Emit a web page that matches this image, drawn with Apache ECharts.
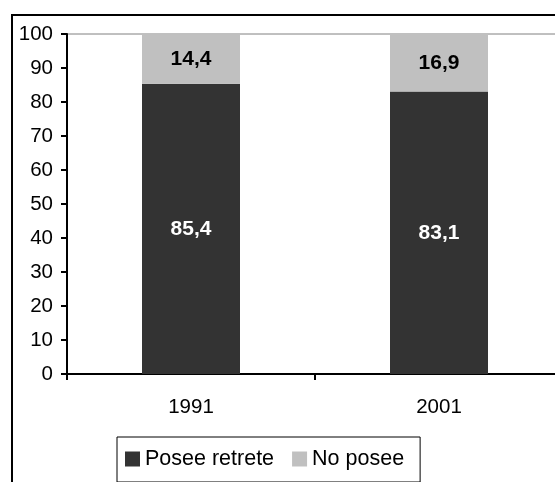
<!DOCTYPE html>
<html>
<head>
<meta charset="utf-8">
<script src="https://cdn.jsdelivr.net/npm/echarts@6/dist/echarts.min.js"></script>
<style>
  html, body { margin: 0; padding: 0; background: #fff; }
  #chart { width: 555px; height: 482px; }
</style>
</head>
<body>
<div id="chart"></div>
<script>
// Census years and share of dwellings with / without a toilet (%)
const years = ['1991', '2001'];
const withToilet = [85.4, 83.1];
const withoutToilet = [14.4, 16.9];
const seriesNames = ['Posee retrete', 'No posee'];
const yTicks = { min: 0, max: 100, step: 10 };

const fmt = v => String(v).replace('.', ',');
const FONT = 'Liberation Sans, Arial, sans-serif';

const chart = echarts.init(document.getElementById('chart'), null, { renderer: 'canvas' });

chart.setOption({
  animation: false,
  backgroundColor: '#ffffff',
  graphic: [
    {
      type: 'rect',
      shape: { x: 12, y: 15, width: 700, height: 700 },
      style: { fill: 'none', stroke: '#000', lineWidth: 2 },
      silent: true,
      z: -1
    }
  ],
  // plot area runs past the right edge of the canvas
  grid: {
    left: 67, top: 34, width: 496, bottom: 108,
    containLabel: false,
    outerBoundsMode: 'none',
    show: true, borderColor: '#808080', borderWidth: 1, backgroundColor: 'transparent'
  },
  legend: {
    left: 117, top: 437,
    orient: 'horizontal',
    itemWidth: 15, itemHeight: 15, itemGap: 18,
    padding: [11, 16, 12, 8],
    borderColor: '#000', borderWidth: 1,
    icon: 'rect',
    textStyle: { fontFamily: FONT, fontSize: 21.5, color: '#000' },
    data: seriesNames
  },
  xAxis: {
    type: 'category',
    data: years,
    axisLine: { lineStyle: { color: '#000', width: 2 } },
    axisTick: { show: true, inside: false, length: 6, lineStyle: { color: '#000', width: 2 } },
    axisLabel: { margin: 23, fontFamily: FONT, fontSize: 20.5, color: '#000' },
    splitLine: { show: false }
  },
  yAxis: {
    type: 'value',
    min: yTicks.min, max: yTicks.max, interval: yTicks.step,
    axisLine: { show: true, lineStyle: { color: '#000', width: 2 } },
    axisTick: { show: true, inside: false, length: 6, lineStyle: { color: '#000', width: 2 } },
    axisLabel: { margin: 14, fontFamily: FONT, fontSize: 20.5, color: '#000' },
    splitLine: { show: false }
  },
  series: [
    {
      name: seriesNames[0],
      type: 'bar',
      stack: 'total',
      barWidth: 98,
      data: withToilet,
      itemStyle: { color: '#333333' },
      label: {
        show: true, position: 'inside',
        formatter: p => fmt(p.value),
        fontFamily: FONT, fontSize: 21, fontWeight: 'bold', color: '#ffffff'
      }
    },
    {
      name: seriesNames[1],
      type: 'bar',
      stack: 'total',
      barWidth: 98,
      data: withoutToilet,
      itemStyle: { color: '#c0c0c0' },
      label: {
        show: true, position: 'inside',
        formatter: p => fmt(p.value),
        fontFamily: FONT, fontSize: 21, fontWeight: 'bold', color: '#000000'
      }
    }
  ]
});
</script>
</body>
</html>
